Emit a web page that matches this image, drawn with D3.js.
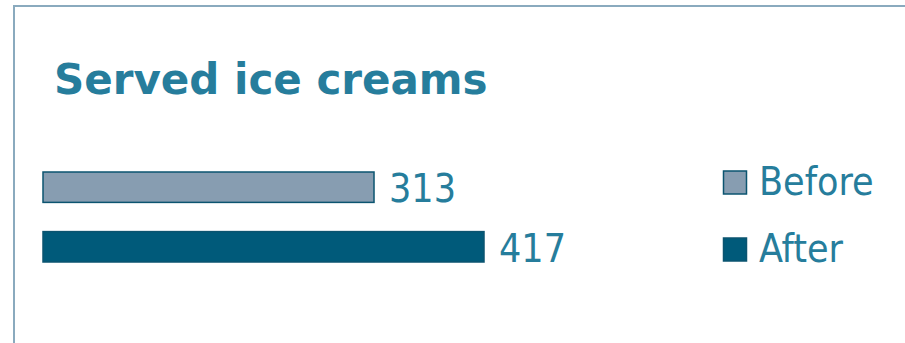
<!DOCTYPE html>
<html>
<head>
<meta charset="utf-8">
<script src="https://cdn.jsdelivr.net/npm/d3@7"></script>
<style>
  body { margin: 0; background: #fff; }
  svg { display: block; }
</style>
</head>
<body>
<svg width="905" height="343"></svg>
<script>
// chart data
var categories = ["Before", "After"];
var values = [313, 417];
var colors = ["#879db1", "#005a7a"];

var svg = d3.select("svg");
var textColor = "#267d9c";
var font = "'DejaVu Sans Condensed', 'DejaVu Sans', sans-serif";

// frame (only top and left edges show)
svg.append("rect")
  .attr("x", 14)
  .attr("y", 6)
  .attr("width", 1000)
  .attr("height", 1000)
  .attr("fill", "none")
  .attr("stroke", "#8aaabe")
  .attr("stroke-width", 2);

svg.append("text")
  .attr("x", 54)
  .attr("y", 94)
  .attr("font-family", "'DejaVu Sans', sans-serif")
  .attr("font-weight", "bold")
  .attr("font-size", "42px")
  .attr("fill", textColor)
  .text("Served ice creams");

var xScale = d3.scaleLinear()
  .domain([0, 417])
  .range([43, 484]);

var yScale = d3.scaleBand()
  .domain(categories)
  .range([172, 262])
  .paddingInner(0.49);

var g = svg.append("g");

g.selectAll(".bar")
  .data(categories)
  .enter()
  .append("rect")
  .attr("class", "bar")
  .attr("x", xScale(0))
  .attr("y", (d) => yScale(d))
  .attr("width", (d, i) => xScale(values[i]) - xScale(0))
  .attr("height", yScale.bandwidth())
  .attr("fill", (d, i) => colors[i])
  .attr("stroke", "#0b5470")
  .attr("stroke-width", 1.5);

g.selectAll(".label")
  .data(categories)
  .enter()
  .append("text")
  .attr("class", "label")
  .attr("x", (d, i) => xScale(values[i]) + 15)
  .attr("y", (d) => yScale(d) + yScale.bandwidth())
  .attr("font-family", font)
  .attr("font-size", "39px")
  .attr("fill", textColor)
  .text((d, i) => values[i]);

// legend
var legendY = d3.scalePoint()
  .domain(categories)
  .range([195, 262]);

var legend = svg.append("g");

legend.selectAll("rect")
  .data(categories)
  .enter()
  .append("rect")
  .attr("x", 723.5)
  .attr("y", (d) => legendY(d) - 24)
  .attr("width", 23)
  .attr("height", 23)
  .attr("fill", (d, i) => colors[i])
  .attr("stroke", "#0b5470")
  .attr("stroke-width", 1.5);

legend.selectAll("text")
  .data(categories)
  .enter()
  .append("text")
  .attr("x", 759)
  .attr("y", (d) => legendY(d))
  .attr("font-family", font)
  .attr("font-size", "39px")
  .attr("fill", textColor)
  .text((d) => d);
</script>
</body>
</html>
